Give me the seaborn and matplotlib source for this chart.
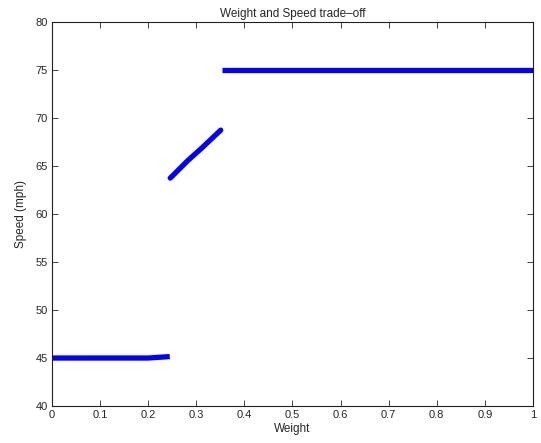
import matplotlib
matplotlib.use("Agg")
import matplotlib.pyplot as plt
import seaborn as sns
import pandas as pd

seg1_w = [0.0, 0.1, 0.2, 0.245]
seg1_s = [45.0, 45.0, 45.0, 45.15]
seg2_w = [0.246, 0.283, 0.312, 0.351]
seg2_s = [63.75, 65.6, 66.9, 68.75]
seg3_w = [0.353, 1.0]
seg3_s = [75.0, 75.0]

df = pd.DataFrame({
    "Weight": seg1_w + seg2_w + seg3_w,
    "Speed": seg1_s + seg2_s + seg3_s,
    "seg": [1] * len(seg1_w) + [2] * len(seg2_w) + [3] * len(seg3_w),
})

sns.set_style("ticks")
plt.rcParams["font.family"] = ["Liberation Sans", "DejaVu Sans"]

fig = plt.figure(figsize=(5.41, 4.43), dpi=100)
ax = fig.add_axes([0.096, 0.0835, 0.889, 0.8665])
sns.lineplot(data=df, x="Weight", y="Speed", units="seg", estimator=None,
             color="#0000ff", linewidth=3.8, solid_capstyle="butt", ax=ax)
if len(ax.lines) >= 2:
    ax.lines[1].set_solid_capstyle("round")
ax.set_xlim(0, 1)
ax.set_ylim(40, 80)
ax.set_xticks([i / 10 for i in range(11)])
ax.set_xticklabels(["0", "0.1", "0.2", "0.3", "0.4", "0.5", "0.6", "0.7", "0.8", "0.9", "1"])
ax.set_yticks(range(40, 81, 5))
ax.tick_params(direction="in", top=True, right=True, labelsize=8, length=4, width=0.6, pad=3)
for s in ax.spines.values():
    s.set_visible(True)
    s.set_linewidth(0.8)
    s.set_color("#222222")
    s.set_zorder(5)
ax.set_xlabel("Weight", fontsize=8.5, labelpad=2)
ax.set_ylabel("Speed (mph)", fontsize=8.5, labelpad=6)
ax.set_title("Weight and Speed trade\u2013off", fontsize=8.5, pad=4)
fig.savefig("out.png", dpi=100)
